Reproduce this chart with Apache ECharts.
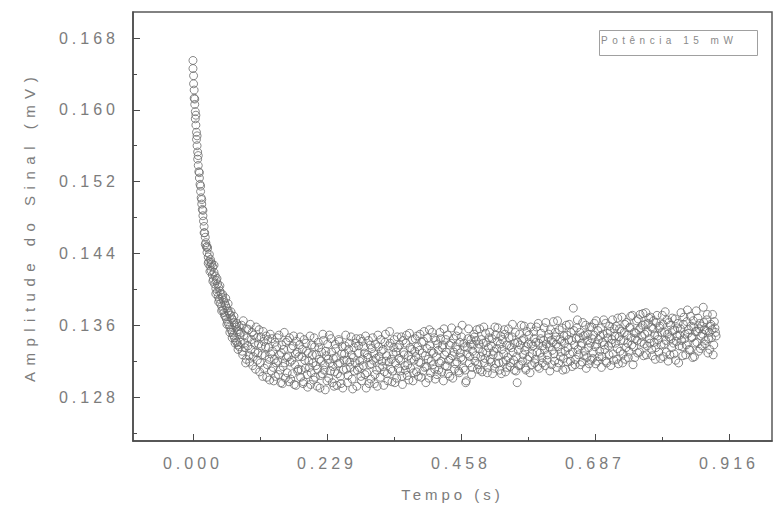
<!DOCTYPE html>
<html>
<head>
<meta charset="utf-8">
<script src="https://cdn.jsdelivr.net/npm/echarts@6/dist/echarts.min.js"></script>
<style>
  html, body { margin: 0; padding: 0; background: #fff; }
  #chart { width: 776px; height: 517px; }
  #chart text { letter-spacing: 4px; }
</style>
</head>
<body>
<div id="chart"></div>
<script>
// Axis tick positions
const rotulosTempo = [0.000, 0.229, 0.458, 0.687, 0.916];
const marcasMenoresTempo = [0.1145, 0.3435, 0.5725, 0.8015];
const rotulosAmplitude = [0.128, 0.136, 0.144, 0.152, 0.160, 0.168];
const marcasMenoresAmplitude = [0.124, 0.132, 0.140, 0.148, 0.156, 0.164];
const legenda = 'Potência 15 mW';
const tituloX = 'Tempo (s)';
const tituloY = 'Amplitude do Sinal (mV)';

// Measured signal: [tempo (s), amplitude (mV)]
const decaimento = [
  [0.000,0.1655],[0.000,0.1646],[0.001,0.1638],[0.001,0.1629],[0.002,0.1622],[0.002,0.1613],[0.003,0.1606],[0.004,0.1598],
  [0.004,0.1590],[0.005,0.1583],[0.006,0.1575],[0.006,0.1567],[0.007,0.1560],[0.008,0.1553],[0.008,0.1545],[0.009,0.1538],
  [0.010,0.1531],[0.011,0.1524],[0.012,0.1517],[0.013,0.1509],[0.014,0.1502],[0.015,0.1495],[0.016,0.1489],[0.017,0.1482],
  [0.018,0.1476],[0.019,0.1470],[0.020,0.1463],[0.021,0.1458],[0.022,0.1452],[0.023,0.1447],[0.024,0.1441],[0.025,0.1446],
  [0.026,0.1436],[0.027,0.1431],[0.028,0.1439],[0.029,0.1426],[0.030,0.1433],[0.031,0.1421],[0.032,0.1428],[0.033,0.1416],
  [0.034,0.1425],[0.035,0.1411],[0.036,0.1419],[0.037,0.1406],[0.038,0.1415],[0.039,0.1401],[0.040,0.1410],[0.041,0.1397],
  [0.042,0.1406],[0.043,0.1392],[0.044,0.1402],[0.045,0.1389],[0.046,0.1398],[0.047,0.1384],[0.048,0.1395],[0.049,0.1381],
  [0.050,0.1391],[0.051,0.1377],[0.052,0.1388],[0.053,0.1374],[0.054,0.1385],[0.055,0.1370],[0.056,0.1382],[0.057,0.1367],
  [0.058,0.1379],[0.059,0.1364],[0.060,0.1376],[0.061,0.1361],[0.062,0.1373],[0.063,0.1358],[0.064,0.1371],[0.065,0.1355],
  [0.066,0.1368],[0.067,0.1352],[0.068,0.1366],[0.069,0.1349],[0.070,0.1363],[0.071,0.1346],[0.072,0.1360],[0.073,0.1343],
  [0.074,0.1358],[0.075,0.1341],[0.076,0.1355],[0.077,0.1338],[0.078,0.1353],[0.079,0.1336],[0.080,0.1350]
];
const decaimento2 = [
  [0.003,0.1612],[0.005,0.1594],[0.007,0.1571],[0.009,0.1549],[0.011,0.1530],[0.013,0.1515],[0.015,0.1500],[0.017,0.1488],
  [0.019,0.1463],[0.021,0.1450],[0.024,0.1448],[0.026,0.1429],[0.029,0.1420],[0.031,0.1430],[0.034,0.1409],[0.036,0.1427],
  [0.039,0.1395],[0.041,0.1412],[0.044,0.1386],[0.046,0.1404],[0.049,0.1376],[0.051,0.1394],[0.054,0.1371],[0.056,0.1390],
  [0.058,0.1361],[0.060,0.1384],[0.063,0.1352],[0.065,0.1375],[0.067,0.1346],[0.070,0.1370],[0.072,0.1340],[0.075,0.1362],
  [0.077,0.1333],[0.079,0.1359]
];
const trechoA = [
  [0.082,0.1352],[0.084,0.1331],[0.086,0.1365],[0.088,0.1340],[0.090,0.1318],[0.092,0.1356],[0.094,0.1337],[0.096,0.1326],[0.098,0.1361],[0.100,0.1344],
  [0.102,0.1315],[0.104,0.1349],[0.106,0.1330],[0.108,0.1358],[0.110,0.1321],[0.112,0.1339],[0.114,0.1308],[0.116,0.1347],[0.118,0.1327],[0.120,0.1353],
  [0.122,0.1312],[0.124,0.1336],[0.126,0.1302],[0.128,0.1344],[0.130,0.1322],[0.132,0.1350],[0.134,0.1309],[0.136,0.1331],[0.138,0.1298],[0.140,0.1341],
  [0.142,0.1318],[0.144,0.1346],[0.146,0.1305],[0.148,0.1327],[0.150,0.1296],[0.152,0.1338],[0.154,0.1314],[0.156,0.1352],[0.158,0.1301],[0.160,0.1324],
  [0.162,0.1343],[0.164,0.1297],[0.166,0.1319],[0.168,0.1334],[0.170,0.1306],[0.172,0.1348],[0.174,0.1316],[0.176,0.1293],[0.178,0.1330],[0.180,0.1311]
];
const trechoA2 = [
  [0.081,0.1341],[0.083,0.1360],[0.085,0.1327],[0.087,0.1349],[0.089,0.1335],[0.091,0.1322],[0.093,0.1346],[0.095,0.1355],[0.097,0.1319],[0.099,0.1333],
  [0.101,0.1352],[0.103,0.1325],[0.105,0.1340],[0.107,0.1311],[0.109,0.1346],[0.111,0.1329],[0.113,0.1355],[0.115,0.1318],[0.117,0.1337],[0.119,0.1303],
  [0.121,0.1342],[0.123,0.1326],[0.125,0.1348],[0.127,0.1316],[0.129,0.1335],[0.131,0.1299],[0.133,0.1328],[0.135,0.1345],[0.137,0.1313],[0.139,0.1322],
  [0.141,0.1303],[0.143,0.1336],[0.145,0.1320],[0.147,0.1349],[0.149,0.1310],[0.151,0.1329],[0.153,0.1295],[0.155,0.1333],[0.157,0.1318],[0.159,0.1341],
  [0.161,0.1307],[0.163,0.1325],[0.165,0.1346],[0.167,0.1300],[0.169,0.1321],[0.171,0.1337],[0.173,0.1294],[0.175,0.1328],[0.177,0.1342],[0.179,0.1309]
];
const trechoB = [
  [0.182,0.1338],[0.184,0.1302],[0.186,0.1325],[0.188,0.1295],[0.190,0.1344],[0.192,0.1312],[0.194,0.1331],[0.196,0.1291],[0.198,0.1320],[0.200,0.1348],
  [0.202,0.1307],[0.204,0.1327],[0.206,0.1299],[0.208,0.1336],[0.210,0.1315],[0.212,0.1292],[0.214,0.1341],[0.216,0.1322],[0.218,0.1304],[0.220,0.1330],
  [0.222,0.1350],[0.224,0.1310],[0.226,0.1288],[0.228,0.1326],[0.230,0.1339],[0.232,0.1301],[0.234,0.1318],[0.236,0.1345],[0.238,0.1296],[0.240,0.1323],
  [0.242,0.1308],[0.244,0.1334],[0.246,0.1293],[0.248,0.1317],[0.250,0.1342],[0.252,0.1303],[0.254,0.1328],[0.256,0.1290],[0.258,0.1321],[0.260,0.1337],
  [0.262,0.1311],[0.264,0.1296],[0.266,0.1333],[0.268,0.1319],[0.270,0.1347],[0.272,0.1300],[0.274,0.1324],[0.276,0.1309],[0.278,0.1340],[0.280,0.1292]
];
const trechoB2 = [
  [0.181,0.1325],[0.183,0.1347],[0.185,0.1310],[0.187,0.1333],[0.189,0.1297],[0.191,0.1321],[0.193,0.1340],[0.195,0.1305],[0.197,0.1329],[0.199,0.1313],
  [0.201,0.1294],[0.203,0.1338],[0.205,0.1318],[0.207,0.1346],[0.209,0.1302],[0.211,0.1327],[0.213,0.1311],[0.215,0.1335],[0.217,0.1290],[0.219,0.1320],
  [0.221,0.1306],[0.223,0.1343],[0.225,0.1316],[0.227,0.1331],[0.229,0.1298],[0.231,0.1322],[0.233,0.1349],[0.235,0.1309],[0.237,0.1330],[0.239,0.1314],
  [0.241,0.1292],[0.243,0.1339],[0.245,0.1324],[0.247,0.1306],[0.249,0.1344],[0.251,0.1318],[0.253,0.1295],[0.255,0.1336],[0.257,0.1310],[0.259,0.1328],
  [0.261,0.1349],[0.263,0.1321],[0.265,0.1304],[0.267,0.1340],[0.269,0.1313],[0.271,0.1327],[0.273,0.1289],[0.275,0.1335],[0.277,0.1318],[0.279,0.1345]
];
const trechoC = [
  [0.282,0.1329],[0.284,0.1313],[0.286,0.1345],[0.288,0.1298],[0.290,0.1322],[0.292,0.1336],[0.294,0.1305],[0.296,0.1290],[0.298,0.1327],[0.300,0.1343],
  [0.302,0.1316],[0.304,0.1300],[0.306,0.1334],[0.308,0.1321],[0.310,0.1295],[0.312,0.1339],[0.314,0.1310],[0.316,0.1349],[0.318,0.1325],[0.320,0.1302],
  [0.322,0.1331],[0.324,0.1314],[0.326,0.1293],[0.328,0.1341],[0.330,0.1320],[0.332,0.1306],[0.334,0.1337],[0.336,0.1353],[0.338,0.1311],[0.340,0.1297],
  [0.342,0.1328],[0.344,0.1344],[0.346,0.1318],[0.348,0.1301],[0.350,0.1335],[0.352,0.1323],[0.354,0.1309],[0.356,0.1347],[0.358,0.1294],[0.360,0.1330],
  [0.362,0.1315],[0.364,0.1340],[0.366,0.1304],[0.368,0.1326],[0.370,0.1351],[0.372,0.1312],[0.374,0.1333],[0.376,0.1298],[0.378,0.1321],[0.380,0.1345]
];
const trechoC2 = [
  [0.281,0.1310],[0.283,0.1337],[0.285,0.1320],[0.287,0.1303],[0.289,0.1342],[0.291,0.1315],[0.293,0.1329],[0.295,0.1348],[0.297,0.1307],[0.299,0.1324],
  [0.301,0.1295],[0.303,0.1338],[0.305,0.1317],[0.307,0.1346],[0.309,0.1328],[0.311,0.1305],[0.313,0.1323],[0.315,0.1292],[0.317,0.1336],[0.319,0.1313],
  [0.321,0.1344],[0.323,0.1320],[0.325,0.1333],[0.327,0.1308],[0.329,0.1350],[0.331,0.1326],[0.333,0.1298],[0.335,0.1319],[0.337,0.1340],[0.339,0.1322],
  [0.341,0.1309],[0.343,0.1335],[0.345,0.1296],[0.347,0.1330],[0.349,0.1347],[0.351,0.1312],[0.353,0.1338],[0.355,0.1321],[0.357,0.1303],[0.359,0.1343],
  [0.361,0.1327],[0.363,0.1310],[0.365,0.1349],[0.367,0.1316],[0.369,0.1299],[0.371,0.1335],[0.373,0.1322],[0.375,0.1344],[0.377,0.1307],[0.379,0.1331]
];
const trechoD = [
  [0.382,0.1308],[0.384,0.1336],[0.386,0.1319],[0.388,0.1350],[0.390,0.1302],[0.392,0.1329],[0.394,0.1342],[0.396,0.1313],[0.398,0.1296],[0.400,0.1334],
  [0.402,0.1322],[0.404,0.1355],[0.406,0.1307],[0.408,0.1331],[0.410,0.1316],[0.412,0.1346],[0.414,0.1300],[0.416,0.1325],[0.418,0.1339],[0.420,0.1310],
  [0.422,0.1352],[0.424,0.1320],[0.426,0.1335],[0.428,0.1298],[0.430,0.1327],[0.432,0.1344],[0.434,0.1314],[0.436,0.1306],[0.438,0.1338],[0.440,0.1323],
  [0.442,0.1357],[0.444,0.1301],[0.446,0.1330],[0.448,0.1317],[0.450,0.1348],[0.452,0.1333],[0.454,0.1309],[0.456,0.1341],[0.458,0.1324],[0.460,0.1360],
  [0.462,0.1312],[0.464,0.1336],[0.466,0.1296],[0.468,0.1328],[0.470,0.1345],[0.472,0.1318],[0.474,0.1339],[0.476,0.1305],[0.478,0.1331],[0.480,0.1350]
];
const trechoD2 = [
  [0.381,0.1325],[0.383,0.1348],[0.385,0.1303],[0.387,0.1332],[0.389,0.1318],[0.391,0.1341],[0.393,0.1309],[0.395,0.1353],[0.397,0.1326],[0.399,0.1314],
  [0.401,0.1346],[0.403,0.1301],[0.405,0.1337],[0.407,0.1320],[0.409,0.1352],[0.411,0.1329],[0.413,0.1311],[0.415,0.1343],[0.417,0.1305],[0.419,0.1332],
  [0.421,0.1318],[0.423,0.1345],[0.425,0.1308],[0.427,0.1338],[0.429,0.1356],[0.431,0.1315],[0.433,0.1330],[0.435,0.1349],[0.437,0.1321],[0.439,0.1303],
  [0.441,0.1340],[0.443,0.1326],[0.445,0.1345],[0.447,0.1311],[0.449,0.1336],[0.451,0.1319],[0.453,0.1354],[0.455,0.1307],[0.457,0.1329],[0.459,0.1347],
  [0.461,0.1322],[0.463,0.1340],[0.465,0.1310],[0.467,0.1298],[0.469,0.1335],[0.471,0.1356],[0.473,0.1325],[0.475,0.1344],[0.477,0.1313],[0.479,0.1338]
];
const trechoE = [
  [0.482,0.1320],[0.484,0.1343],[0.486,0.1311],[0.488,0.1334],[0.490,0.1356],[0.492,0.1325],[0.494,0.1308],[0.496,0.1340],[0.498,0.1318],[0.500,0.1351],
  [0.502,0.1329],[0.504,0.1313],[0.506,0.1346],[0.508,0.1322],[0.510,0.1337],[0.512,0.1306],[0.514,0.1331],[0.516,0.1358],[0.518,0.1317],[0.520,0.1342],
  [0.522,0.1326],[0.524,0.1310],[0.526,0.1348],[0.528,0.1333],[0.530,0.1319],[0.532,0.1355],[0.534,0.1308],[0.536,0.1338],[0.538,0.1324],[0.540,0.1346],
  [0.542,0.1314],[0.544,0.1335],[0.546,0.1361],[0.548,0.1321],[0.550,0.1340],[0.552,0.1309],[0.554,0.1296],[0.556,0.1332],[0.558,0.1350],[0.560,0.1316],
  [0.562,0.1343],[0.564,0.1327],[0.566,0.1359],[0.568,0.1312],[0.570,0.1336],[0.572,0.1322],[0.574,0.1349],[0.576,0.1307],[0.578,0.1339],[0.580,0.1328]
];
const trechoE2 = [
  [0.481,0.1347],[0.483,0.1326],[0.485,0.1355],[0.487,0.1316],[0.489,0.1339],[0.491,0.1310],[0.493,0.1344],[0.495,0.1330],[0.497,0.1358],[0.499,0.1323],
  [0.501,0.1341],[0.503,0.1307],[0.505,0.1335],[0.507,0.1352],[0.509,0.1319],[0.511,0.1345],[0.513,0.1327],[0.515,0.1312],[0.517,0.1349],[0.519,0.1334],
  [0.521,0.1357],[0.523,0.1318],[0.525,0.1339],[0.527,0.1306],[0.529,0.1344],[0.531,0.1328],[0.533,0.1350],[0.535,0.1321],[0.537,0.1313],[0.539,0.1356],
  [0.541,0.1337],[0.543,0.1318],[0.545,0.1347],[0.547,0.1330],[0.549,0.1310],[0.551,0.1352],[0.553,0.1325],[0.555,0.1341],[0.557,0.1315],[0.559,0.1338],
  [0.561,0.1360],[0.563,0.1320],[0.565,0.1345],[0.567,0.1332],[0.569,0.1310],[0.571,0.1353],[0.573,0.1339],[0.575,0.1325],[0.577,0.1358],[0.579,0.1316]
];
const trechoF = [
  [0.582,0.1353],[0.584,0.1318],[0.586,0.1341],[0.588,0.1330],[0.590,0.1362],[0.592,0.1312],[0.594,0.1345],[0.596,0.1324],[0.598,0.1337],[0.600,0.1357],
  [0.602,0.1315],[0.604,0.1339],[0.606,0.1327],[0.608,0.1350],[0.610,0.1309],[0.612,0.1343],[0.614,0.1332],[0.616,0.1364],[0.618,0.1320],[0.620,0.1347],
  [0.622,0.1313],[0.624,0.1336],[0.626,0.1355],[0.628,0.1325],[0.630,0.1342],[0.632,0.1310],[0.634,0.1348],[0.636,0.1331],[0.638,0.1360],[0.640,0.1319],
  [0.642,0.1344],[0.644,0.1328],[0.646,0.1352],[0.648,0.1314],[0.650,0.1379],[0.652,0.1338],[0.654,0.1322],[0.656,0.1357],[0.658,0.1333],[0.660,0.1346],
  [0.662,0.1316],[0.664,0.1340],[0.666,0.1363],[0.668,0.1326],[0.670,0.1349],[0.672,0.1312],[0.674,0.1343],[0.676,0.1335],[0.678,0.1358],[0.680,0.1321]
];
const trechoF2 = [
  [0.581,0.1337],[0.583,0.1345],[0.585,0.1322],[0.587,0.1358],[0.589,0.1314],[0.591,0.1340],[0.593,0.1329],[0.595,0.1351],[0.597,0.1318],[0.599,0.1343],
  [0.601,0.1333],[0.603,0.1363],[0.605,0.1321],[0.607,0.1346],[0.609,0.1336],[0.611,0.1355],[0.613,0.1316],[0.615,0.1341],[0.617,0.1328],[0.619,0.1352],
  [0.621,0.1339],[0.623,0.1365],[0.625,0.1318],[0.627,0.1344],[0.629,0.1330],[0.631,0.1357],[0.633,0.1323],[0.635,0.1340],[0.637,0.1311],[0.639,0.1349],
  [0.641,0.1335],[0.643,0.1361],[0.645,0.1320],[0.647,0.1343],[0.649,0.1330],[0.651,0.1354],[0.653,0.1316],[0.655,0.1345],[0.657,0.1366],[0.659,0.1327],
  [0.661,0.1352],[0.663,0.1337],[0.665,0.1319],[0.667,0.1348],[0.669,0.1331],[0.671,0.1360],[0.673,0.1324],[0.675,0.1350],[0.677,0.1317],[0.679,0.1340]
];
const trechoG = [
  [0.682,0.1345],[0.684,0.1330],[0.686,0.1362],[0.688,0.1317],[0.690,0.1339],[0.692,0.1354],[0.694,0.1325],[0.696,0.1348],[0.698,0.1313],[0.700,0.1341],
  [0.702,0.1366],[0.704,0.1333],[0.706,0.1320],[0.708,0.1351],[0.710,0.1337],[0.712,0.1359],[0.714,0.1315],[0.716,0.1344],[0.718,0.1328],[0.720,0.1356],
  [0.722,0.1340],[0.724,0.1322],[0.726,0.1368],[0.728,0.1347],[0.730,0.1331],[0.732,0.1353],[0.734,0.1318],[0.736,0.1343],[0.738,0.1361],[0.740,0.1335],
  [0.742,0.1349],[0.744,0.1324],[0.746,0.1357],[0.748,0.1370],[0.750,0.1338],[0.752,0.1316],[0.754,0.1352],[0.756,0.1345],[0.758,0.1365],[0.760,0.1329],
  [0.762,0.1355],[0.764,0.1372],[0.766,0.1341],[0.768,0.1360],[0.770,0.1326],[0.772,0.1350],[0.774,0.1374],[0.776,0.1337],[0.778,0.1362],[0.780,0.1345]
];
const trechoG2 = [
  [0.681,0.1358],[0.683,0.1323],[0.685,0.1349],[0.687,0.1336],[0.689,0.1365],[0.691,0.1320],[0.693,0.1344],[0.695,0.1331],[0.697,0.1357],[0.699,0.1325],
  [0.701,0.1350],[0.703,0.1338],[0.705,0.1362],[0.707,0.1318],[0.709,0.1346],[0.711,0.1327],[0.713,0.1353],[0.715,0.1340],[0.717,0.1366],[0.719,0.1321],
  [0.721,0.1348],[0.723,0.1359],[0.725,0.1334],[0.727,0.1317],[0.729,0.1356],[0.731,0.1343],[0.733,0.1369],[0.735,0.1328],[0.737,0.1352],[0.739,0.1322],
  [0.741,0.1363],[0.743,0.1340],[0.745,0.1331],[0.747,0.1358],[0.749,0.1346],[0.751,0.1371],[0.753,0.1336],[0.755,0.1324],[0.757,0.1351],[0.759,0.1343],
  [0.761,0.1367],[0.763,0.1330],[0.765,0.1357],[0.767,0.1348],[0.769,0.1373],[0.771,0.1339],[0.773,0.1361],[0.775,0.1327],[0.777,0.1352],[0.779,0.1368]
];
const trechoH = [
  [0.782,0.1369],[0.784,0.1333],[0.786,0.1356],[0.788,0.1341],[0.790,0.1322],[0.792,0.1363],[0.794,0.1348],[0.796,0.1330],[0.798,0.1359],[0.800,0.1338],
  [0.802,0.1371],[0.804,0.1325],[0.806,0.1352],[0.808,0.1343],[0.810,0.1366],[0.812,0.1320],[0.814,0.1347],[0.816,0.1360],[0.818,0.1335],[0.820,0.1354],
  [0.822,0.1328],[0.824,0.1367],[0.826,0.1342],[0.828,0.1357],[0.830,0.1318],[0.832,0.1349],[0.834,0.1374],[0.836,0.1336],[0.838,0.1361],[0.840,0.1345],
  [0.842,0.1327],[0.844,0.1364],[0.846,0.1351],[0.848,0.1333],[0.850,0.1370],[0.852,0.1346],[0.854,0.1324],[0.856,0.1358],[0.858,0.1340],[0.860,0.1376],
  [0.862,0.1353],[0.864,0.1331],[0.866,0.1362],[0.868,0.1348],[0.870,0.1337],[0.872,0.1380],[0.874,0.1355],[0.876,0.1343],[0.878,0.1366],[0.880,0.1329],
  [0.882,0.1352],[0.884,0.1359],[0.886,0.1346],[0.888,0.1372],[0.890,0.1338],[0.892,0.1357],[0.894,0.1348]
];
const trechoH2 = [
  [0.781,0.1340],[0.783,0.1358],[0.785,0.1326],[0.787,0.1365],[0.789,0.1349],[0.791,0.1335],[0.793,0.1371],[0.795,0.1344],[0.797,0.1357],[0.799,0.1323],
  [0.801,0.1352],[0.803,0.1361],[0.805,0.1339],[0.807,0.1375],[0.809,0.1330],[0.811,0.1350],[0.813,0.1363],[0.815,0.1327],[0.817,0.1345],[0.819,0.1368],
  [0.821,0.1340],[0.823,0.1355],[0.825,0.1321],[0.827,0.1348],[0.829,0.1362],[0.831,0.1337],[0.833,0.1356],[0.835,0.1343],[0.837,0.1326],[0.839,0.1369],
  [0.841,0.1350],[0.843,0.1338],[0.845,0.1377],[0.847,0.1355],[0.849,0.1332],[0.851,0.1359],[0.853,0.1347],[0.855,0.1365],[0.857,0.1325],[0.859,0.1353],
  [0.861,0.1341],[0.863,0.1368],[0.865,0.1356],[0.867,0.1334],[0.869,0.1359],[0.871,0.1350],[0.873,0.1363],[0.875,0.1339],[0.877,0.1354],[0.879,0.1372],
  [0.881,0.1345],[0.883,0.1333],[0.885,0.1361],[0.887,0.1355],[0.889,0.1327],[0.891,0.1364],[0.893,0.1352]
];

const pontos = [].concat(
  decaimento, decaimento2,
  trechoA, trechoA2, trechoB, trechoB2, trechoC, trechoC2, trechoD, trechoD2,
  trechoE, trechoE2, trechoF, trechoF2, trechoG, trechoG2, trechoH, trechoH2
);

const corEixo = '#4a4a4a';
const corTexto = '#7c7c7c';
const fonte = '"Liberation Sans", Arial, sans-serif';
const tMin = -0.1025, tMax = 0.9895;
const aMin = 0.1231, aMax = 0.1709;

const chart = echarts.init(document.getElementById('chart'), null, { renderer: 'svg' });
chart.setOption({
  animation: false,
  backgroundColor: '#ffffff',
  grid: {
    left: 133, right: 4, top: 12, bottom: 76,
    show: true, borderColor: '#5a5a5a', borderWidth: 1.5,
    outerBoundsMode: 'none'
  },
  graphic: [
    {
      type: 'rect', left: 597, top: 28, silent: true,
      shape: { width: 158, height: 25 },
      style: { fill: 'none', stroke: '#a0a0a0', lineWidth: 1 }
    },
    {
      type: 'text', left: 601, top: 35, silent: true,
      style: { text: legenda, fontSize: 10, fill: '#8a8a8a', fontFamily: fonte }
    }
  ],
  xAxis: [
    {
      type: 'value', min: tMin, max: tMax, position: 'bottom',
      axisLine: { show: true, onZero: false, lineStyle: { color: corEixo, width: 1.5 } },
      splitLine: { show: false },
      axisTick: { show: true, inside: true, length: 7, customValues: rotulosTempo, lineStyle: { color: corEixo } },
      axisLabel: {
        customValues: rotulosTempo, formatter: v => v.toFixed(3),
        color: corTexto, fontSize: 16, margin: 14, fontFamily: fonte
      },
      name: tituloX, nameLocation: 'middle', nameGap: 46,
      nameTextStyle: { color: corTexto, fontSize: 15, fontFamily: fonte }
    },
    {
      type: 'value', min: tMin, max: tMax, position: 'bottom',
      axisLine: { show: false, onZero: false },
      splitLine: { show: false },
      axisTick: { show: true, inside: true, length: 4, customValues: marcasMenoresTempo, lineStyle: { color: corEixo } },
      axisLabel: { show: false }
    }
  ],
  yAxis: [
    {
      type: 'value', min: aMin, max: aMax, position: 'left',
      axisLine: { show: true, onZero: false, lineStyle: { color: corEixo, width: 1.5 } },
      splitLine: { show: false },
      axisTick: { show: true, inside: true, length: 7, customValues: rotulosAmplitude, lineStyle: { color: corEixo } },
      axisLabel: {
        customValues: rotulosAmplitude, formatter: v => v.toFixed(3),
        color: corTexto, fontSize: 16, margin: 14, fontFamily: fonte
      },
      name: tituloY, nameLocation: 'middle', nameGap: 96,
      nameTextStyle: { color: corTexto, fontSize: 15, fontFamily: fonte }
    },
    {
      type: 'value', min: aMin, max: aMax, position: 'left',
      axisLine: { show: false, onZero: false },
      splitLine: { show: false },
      axisTick: { show: true, inside: true, length: 4, customValues: marcasMenoresAmplitude, lineStyle: { color: corEixo } },
      axisLabel: { show: false }
    }
  ],
  series: [
    {
      name: legenda,
      type: 'scatter',
      xAxisIndex: 0, yAxisIndex: 0,
      symbol: 'circle', symbolSize: 8,
      itemStyle: { color: 'rgba(255,255,255,0)', borderColor: '#6c6c6c', borderWidth: 1 },
      emphasis: { disabled: true },
      data: pontos
    }
  ]
});

// Wider tracking for the vertical title and the power note
function ajustarEspacamento() {
  document.querySelectorAll('#chart text').forEach(function (t) {
    if (t.textContent === tituloY) t.style.letterSpacing = '6.5px';
    if (t.textContent === legenda) t.style.letterSpacing = '4.5px';
  });
}
chart.on('finished', ajustarEspacamento);
ajustarEspacamento();
setTimeout(ajustarEspacamento, 0);
</script>
</body>
</html>
